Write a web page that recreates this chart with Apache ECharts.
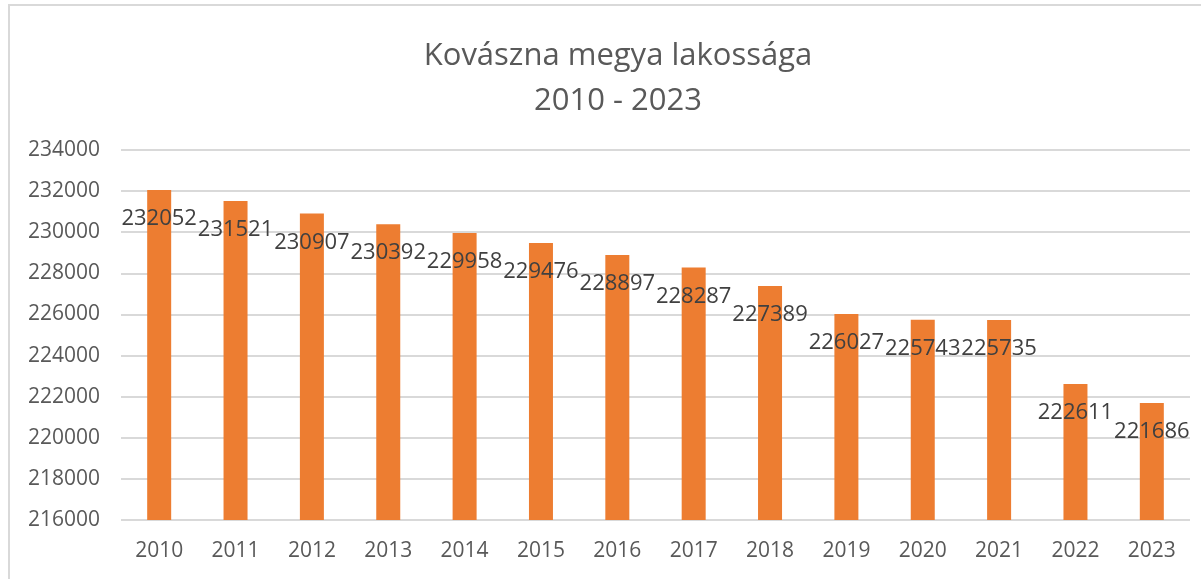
<!DOCTYPE html>
<html>
<head>
	<meta charset="utf-8">
	<title>Kovászna megya lakossága</title>
	<script src="https://cdn.jsdelivr.net/npm/echarts@6/dist/echarts.min.js"></script>
	<style>
		html, body { margin: 0; padding: 0; overflow: hidden; background: #fff; }
		#frame { position: absolute; left: 8px; top: 4px; width: 1300px; height: 700px; border: 2px solid #d9d9d9; }
		#main { position: absolute; left: 0; top: 0; width: 1201px; height: 579px; }
	</style>
</head>
<body>
	<div id="frame"></div>
	<div id="main"></div>
	<script>
		// adatok
		var years = ['2010', '2011', '2012', '2013', '2014', '2015', '2016',
			'2017', '2018', '2019', '2020', '2021', '2022', '2023'];
		var population = [232052, 231521, 230907, 230392, 229958, 229476, 228897,
			228287, 227389, 226027, 225743, 225735, 222611, 221686];
		var yMin = 216000, yMax = 234000, yStep = 2000;

		var myChart = echarts.init(document.getElementById('main'));
		var font = '"Open Sans", sans-serif';

		var option = {
			animation: false,
			title: {
				text: 'Kovászna megya lakossága\n2010 - 2023',
				left: 613,
				top: 29,
				textAlign: 'center',
				textStyle: {
					fontFamily: font,
					fontSize: 31,
					fontWeight: 'normal',
					color: '#595959',
					lineHeight: 45
				}
			},
			grid: {
				left: 121,
				right: 11,
				top: 150,
				bottom: 59,
				containLabel: false
			},
			xAxis: {
				type: 'category',
				data: years,
				axisLine: { show: false },
				axisTick: { show: false },
				axisLabel: {
					margin: 21,
					fontFamily: font,
					fontSize: 21,
					color: '#595959'
				}
			},
			yAxis: {
				type: 'value',
				min: yMin,
				max: yMax,
				interval: yStep,
				axisLabel: {
					margin: 21,
					fontFamily: font,
					fontSize: 21,
					color: '#595959',
					formatter: function (v) { return String(v); }
				},
				splitLine: { lineStyle: { color: '#d9d9d9', width: 2 } }
			},
			series: [{
				type: 'bar',
				data: population,
				barWidth: 24,
				itemStyle: { color: '#ED7D31' },
				label: {
					show: true,
					position: 'insideTop',
					offset: [0, 13],
					fontFamily: font,
					fontSize: 22,
					color: '#404040'
				}
			}]
		};

		myChart.setOption(option);
	</script>
</body>
</html>
